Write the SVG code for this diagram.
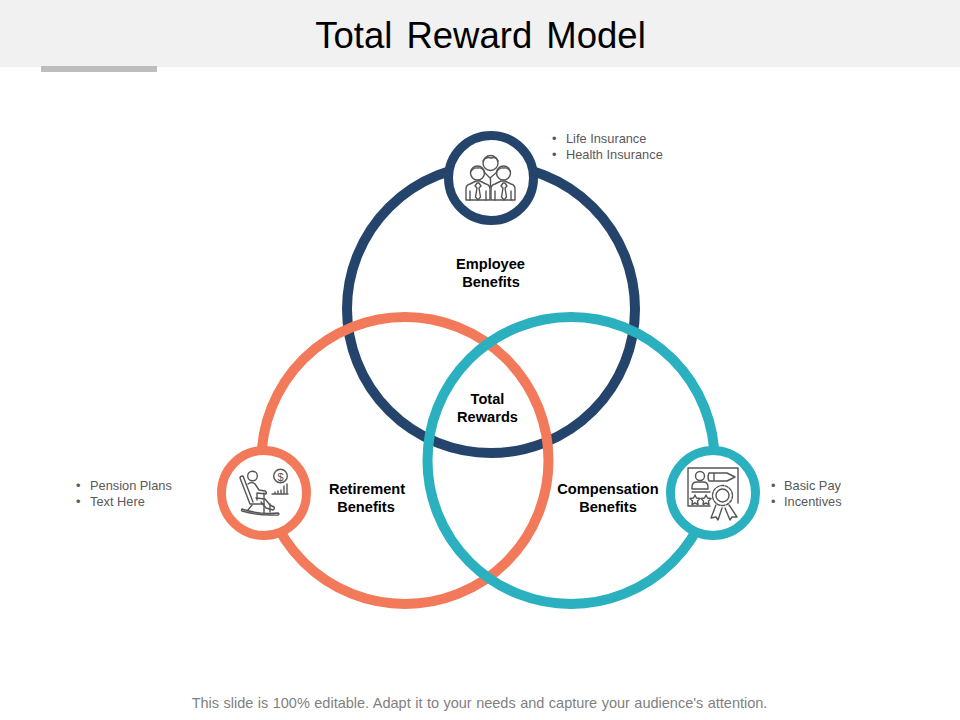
<svg xmlns="http://www.w3.org/2000/svg" width="960" height="720" viewBox="0 0 960 720">
<style>
.ring{fill:none;stroke-width:10}
.hub{fill:#fff;stroke-width:9}
.navy{stroke:#24446b}.coral{stroke:#f27a5a}.teal{stroke:#2bb0c0}
.ic{fill:none;stroke:#555;stroke-width:1.4;stroke-linecap:round;stroke-linejoin:round}
.lab{font:bold 14.600px "Liberation Sans",Arial,sans-serif;fill:#000;text-anchor:middle}
.li{font:12.800px "Liberation Sans",Arial,sans-serif;fill:#595959}
</style>
<rect width="960" height="67" fill="#f1f1f1"/>
<rect x="41" y="66" width="116" height="6" fill="#bdbdbd"/>
<text x="480.500" y="48" font-family="'Liberation Sans',Arial,sans-serif" font-size="36.500" fill="#000" text-anchor="middle" word-spacing="4">Total Reward Model</text>
<g id="connectors">
<circle class="ring navy" cx="491" cy="309" r="144"/>
<circle class="ring coral" cx="405" cy="460.500" r="143.500"/>
<circle class="ring teal" cx="571" cy="460.500" r="143.500"/>
</g>
<g id="employee-hub">
<circle class="hub navy" cx="491" cy="178" r="42.500"/>
<g class="ic">
<circle cx="490.500" cy="163" r="7.500"/><path d="M483 161q3-5 8-3 5-2 7 3"/>
<circle cx="477.500" cy="173" r="7"/><path d="M470.500 172q3-5 7-4 5-1 7 4"/>
<circle cx="503.500" cy="173" r="7"/><path d="M496.500 172q3-5 7-4 5-1 7 4"/>
<path d="M466 200v-11q0-4 4-5l6-3h4l6 3q4 1 4 5v11z"/>
<path d="M491 200v-11q0-4 4-5l6-3h4l6 3q4 1 4 5v11z"/>
<path d="M484 172l6 6 7-6M490.500 178v9"/>
<path d="M477 183l-2 3 2 2-1.500 9 2.500 3 2.500-3-1.500-9 2-2-2-3z"/>
<path d="M503 183l-2 3 2 2-1.500 9 2.500 3 2.500-3-1.500-9 2-2-2-3z"/>
<path d="M470 191v9M486 191v9M495 191v9M511 191v9"/>
</g>
</g>
<g id="retirement-hub">
<circle class="hub coral" cx="264" cy="493" r="42.500"/>
<g class="ic">
<circle cx="252.500" cy="476" r="4.800"/>
<circle cx="280.500" cy="476" r="6.800"/>
<path d="M240 478q0-2 3-2l10 26M240 478l10 26h14"/>
<path d="M248 484q4-3 7 0l4 6 6 1q2 1 1 3l-9-1 0 7"/>
<path d="M256 498l9 1 5 6 4 2q1 2-1 3l-7-2-5-6"/>
<path d="M242 509q18 6 36 4q2 1 0 2q-20 1-36-4q-1-1 0-2z"/>
<path d="M252 505l-4 5M264 493v20M270 504v8"/>
<path d="M272 494h16M275 494v-2M278 494v-3M281 494v-4M284 494v-8M287 494v-10"/>
</g>
<text x="280.500" y="480.500" font-family="'Liberation Sans',Arial,sans-serif" font-size="11" fill="#555" text-anchor="middle">$</text>
</g>
<g id="compensation-hub">
<circle class="hub teal" cx="713" cy="493" r="42.500"/>
<g class="ic">
<path d="M710 506h-22v-38h50v35"/>
<circle cx="700" cy="476" r="4.500"/>
<path d="M692 489v-2q0-5 5-5h6q5 0 5 5v2zM692 492h18"/>
<path d="M709 473h18l8 4-8 4h-18q-2-4 0-8zM714 473v8"/>
<path d="M695 495l1.500 3 3.500 .5-2.500 2.500 .5 3.500-3-1.500-3 1.500.5-3.500-2.500-2.500 3.500-.5z"/>
<path d="M706 495l1.500 3 3.500 .5-2.500 2.500 .5 3.500-3-1.500-3 1.500.5-3.500-2.500-2.500 3.500-.5z"/>
<circle cx="722.500" cy="495.500" r="6.500"/>
<circle cx="722.500" cy="495.500" r="10" stroke-dasharray="3 1.500"/>
<path d="M716 505l-5 13 5-1 2 3 4-12M729 505l8 12-5 0-2 3-5-12"/>
</g>
</g>
<g id="labels">
<text class="lab" x="490.500" y="269">Employee</text>
<text class="lab" x="491" y="287">Benefits</text>
<text class="lab" x="487.500" y="404">Total</text>
<text class="lab" x="487.500" y="422">Rewards</text>
<text class="lab" x="367" y="494">Retirement</text>
<text class="lab" x="366" y="512">Benefits</text>
<text class="lab" x="608" y="494">Compensation</text>
<text class="lab" x="608" y="512">Benefits</text>
</g>
<g id="bullets">
<text class="li" x="552" y="143">•</text><text class="li" x="566" y="143">Life Insurance</text>
<text class="li" x="552" y="159">•</text><text class="li" x="566" y="159">Health Insurance</text>
<text class="li" x="76" y="490">•</text><text class="li" x="90" y="490">Pension Plans</text>
<text class="li" x="76" y="506">•</text><text class="li" x="90" y="506">Text Here</text>
<text class="li" x="771" y="490">•</text><text class="li" x="784" y="490">Basic Pay</text>
<text class="li" x="771" y="506">•</text><text class="li" x="784" y="506">Incentives</text>
</g>
<text x="479.500" y="708" font-family="'Liberation Sans',Arial,sans-serif" font-size="14.500" word-spacing="0.450" fill="#7f7f7f" text-anchor="middle">This slide is 100% editable. Adapt it to your needs and capture your audience's attention.</text>
</svg>
